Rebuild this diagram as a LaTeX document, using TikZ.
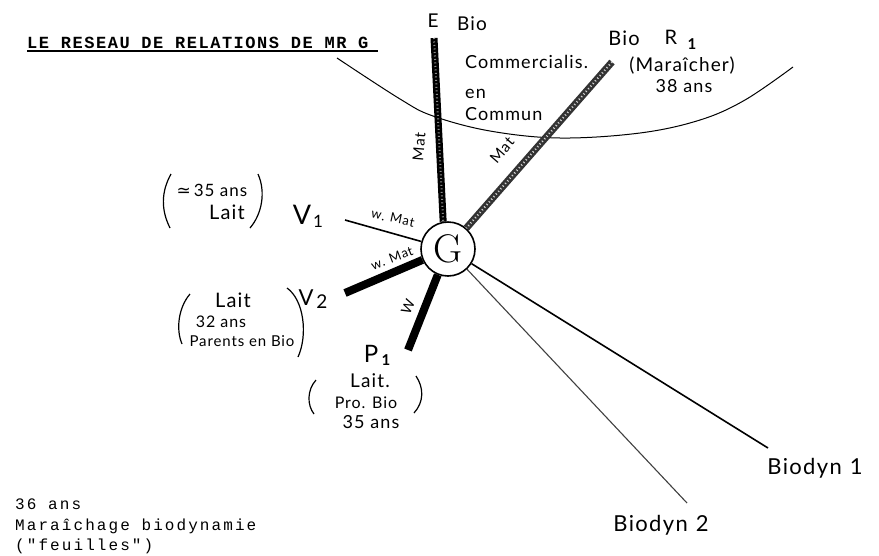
\documentclass[tikz,border=0pt]{standalone}
\usepackage{fontspec}
\newfontfamily\hand{Lato}[LetterSpace=6]
\newfontfamily\tw{Liberation Mono}[LetterSpace=13]
\newfontfamily\twT{Liberation Mono}[LetterSpace=9]
\newfontfamily\dv{DejaVu Sans}
\begin{document}
\begin{tikzpicture}[x=1pt,y=-1pt,
  lbl/.style={inner sep=0pt, font=\hand\fontsize{#1}{#1}\selectfont},
  lbl/.default=16,
  typed/.style={inner sep=0pt, anchor=base west, font=\tw\fontsize{16}{20}\selectfont},
  thin link/.style={line width=1.6pt},
  light link/.style={line width=1.1pt, black!75},
  heavy link/.style={line width=8pt},
  textured/.style={line width=7pt},
  speckle/.style={line width=2pt, white, opacity=0.55, dash pattern=on 1pt off 2.5pt},
  paren/.style={line width=1.2pt}]
\useasboundingbox (0,0) rectangle (879,555);

% title
\node[inner sep=0pt, anchor=base west, font=\twT\bfseries\fontsize{17}{20}\selectfont] (title) at (27,48) {LE RESEAU DE RELATIONS DE MR G};
\coordinate (ulA) at (27,51);
\coordinate (ulB) at (378,51);
\draw[line width=1.4pt] (ulA) -- (ulB);

% central node
\node[circle, draw, line width=1.6pt, minimum size=54pt, inner sep=0pt, fill=white] (G) at (448,249)
  {\fontsize{40}{40}\selectfont G};

% end points
\coordinate (Eend) at (434,38);
\coordinate (Rend) at (612,62);
\coordinate (V1end) at (345,220);
\coordinate (V2end) at (345,293);
\coordinate (P1end) at (408,350);
\coordinate (B1end) at (768,448);
\coordinate (B2end) at (687,503);

% boundary curve
\draw[line width=1pt] plot[smooth, tension=0.6] coordinates {(337,58) (400,99) (433,116) (490,131) (560,138) (640,133) (700,120) (745,100) (793,67)};

% links
\draw[textured] (Eend) -- (G.100);
\draw[speckle] (Eend) -- (G.100);
\draw[textured, black!80] (Rend) -- (G);
\draw[speckle, opacity=0.8] (Rend) -- (G);
\draw[thin link] (V1end) -- (G);
\draw[heavy link] (V2end) -- (G);
\draw[heavy link] (P1end) -- (G);
\draw[thin link] (B1end) -- (G);
\draw[light link] (B2end) -- (G);

% link labels
\node[lbl=15, rotate=85] (matE) at (419,147) {Mat};
\node[lbl=15, rotate=49] (matR) at (502,150) {Mat};
\node[lbl=13, rotate=-12] (wmat1) at (393,218) {w. Mat};
\node[lbl=13, rotate=21] (wmat2) at (392,258) {w. Mat};
\node[lbl=14, rotate=66] (wP) at (408,307) {W};

% E Bio
\node[lbl=19] (Elab) at (433,21) {E};
\node[lbl=19] (EBio) at (472,24) {Bio};
\node[lbl=18, anchor=west] (com1) at (465,62) {Commercialis.};
\node[lbl=18, anchor=west] (com2) at (465,94) {en};
\node[lbl=18, anchor=west] (com3) at (465,114) {Commun};

% Bio R1
\node[lbl=20] (RBio) at (624,38) {Bio};
\node[lbl=20] (Rlab) at (671,37) {R};
\node[lbl=15] (Rsub) at (692,44) {\bfseries 1};
\node[lbl=19] (Rmar) at (682,66) {(Maraîcher)};
\node[lbl=18] (Rage) at (684,86) {38 ans};

% V1
\node[lbl=27] (V1lab) at (302,215) {V};
\node[lbl=17] (V1sub) at (318,221) {1};
\node[lbl=17] (V1a) at (212,190) {{\dv≃}\,35 ans};
\node[lbl=20] (V1b) at (227,212) {Lait};
\draw[paren] (171,174) .. controls (161,192) and (161,210) .. (170,228);
\draw[paren] (258,174) .. controls (266,192) and (262,214) .. (250,228);

% V2
\node[lbl=22] (V2lab) at (306,298) {V};
\node[lbl=19] (V2sub) at (322,302) {2};
\node[lbl=20] (V2a) at (233,300) {Lait};
\node[lbl=16] (V2b) at (221,322) {32 ans};
\node[lbl=15] (V2c) at (242,341) {Parents en Bio};
\draw[paren] (190,294) .. controls (178,308) and (176,330) .. (182,344);
\draw[paren] (287,288) .. controls (304,300) and (308,335) .. (298,357);

% P1
\node[lbl=24] (P1lab) at (371,354) {P};
\node[lbl=15] (P1sub) at (386,360) {\bfseries 1};
\node[lbl=19] (P1a) at (370,381) {Lait.};
\node[lbl=16] (P1b) at (366,403) {Pro. Bio};
\node[lbl=18] (P1c) at (371,422) {35 ans};
\draw[paren] (316,380) .. controls (307,390) and (307,405) .. (314,414);
\draw[paren] (416,376) .. controls (424,388) and (424,402) .. (414,413);

% Biodyn
\node[lbl=22] (B1lab) at (815,468) {Biodyn\hspace{8pt}1};
\node[lbl=22] (B2lab) at (661,525) {Biodyn\hspace{8pt}2};

% bottom note
\node[typed] (note1) at (15,509) {36 ans};
\node[typed] (note2) at (15,530) {Maraîchage biodynamie};
\node[typed] (note3) at (15,550) {("feuilles")};
\end{tikzpicture}
\end{document}
